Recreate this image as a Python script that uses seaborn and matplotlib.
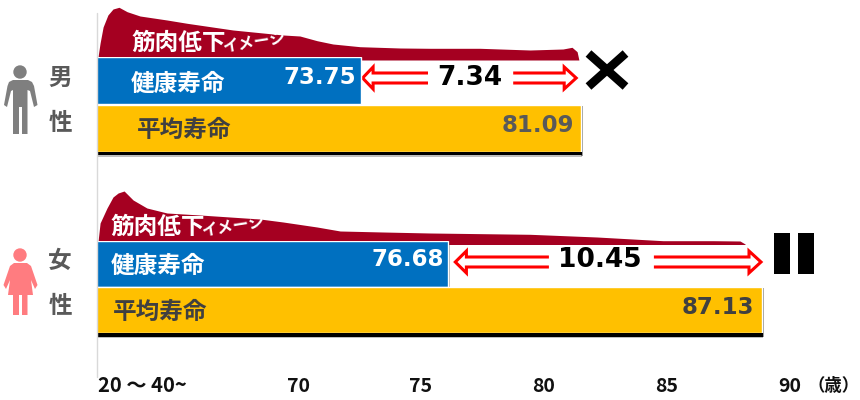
#!/usr/bin/env python3

import matplotlib
matplotlib.use("Agg")
import matplotlib.pyplot as plt
from matplotlib.patches import Circle, Polygon
import seaborn as sns

sns.set_theme(style="white")
JP_FONT = ["Noto Sans CJK JP", "DejaVu Sans"]
plt.rcParams["font.family"] = JP_FONT

# values
bar_names = ["健康寿命", "平均寿命"]
male_years = [73.75, 81.09]
female_years = [76.68, 87.13]
male_gap = "7.34"
female_gap = "10.45"

# muscle decline curves: age and top edge
male_curve_age = [65.0, 65.07, 65.17, 65.33, 65.5, 65.7, 65.97, 66.4, 67.3, 67.97, 69.5, 71.17,
                  71.73, 72.3, 72.83, 73.73, 75.07, 76.07, 77.73, 79.4, 80.5, 80.8, 80.97, 81.03]
male_curve_top = [57, 43, 27, 15, 9, 7.3, 11.7, 16, 20, 23.3, 30, 35,
                  36, 40.7, 44, 46.7, 48, 48.3, 48.3, 50, 49, 47.3, 51.7, 60]
female_curve_age = [65.0, 65.07, 65.3, 65.5, 65.67, 65.87, 66.17, 66.63, 67.3, 68.4, 70.4, 71.17,
                    72.3, 73.07, 74.5, 76.07, 79.4, 81.63, 83.83, 85.5, 86.4, 86.57]
female_curve_top = [241.7, 223, 208, 197, 193, 191, 200, 208, 213, 215, 219, 222,
                    227, 231, 232, 233, 234.3, 237, 240.7, 240.7, 241, 244]

tick_labels = ["70", "75", "80", "85", "90"]
tick_pixels = [298, 421, 544, 667, 790]

BLUE = "#0070C0"
GOLD = "#FFC000"
MAROON = "#A50021"
W, H = 860, 400
LEFT_PX = 98
PX_PER_YEAR = 30


def add_bars(fig, top, bottom, years):
    ax = fig.add_axes([LEFT_PX / W, 1 - bottom / H, (W - LEFT_PX) / W, (bottom - top) / H], zorder=2)
    sns.barplot(x=years, y=bar_names, hue=bar_names, palette=[BLUE, GOLD], width=1,
                saturation=1, legend=False, ax=ax)
    ax.set_xlim(65, 65 + (W - LEFT_PX) / PX_PER_YEAR)
    ax.axis("off")
    return ax


def add_shadow(ax, years, blue_top, gold_top, gold_bottom):
    ax.fill_between([65, years[1] + 0.05], gold_bottom + 1, gold_bottom + 5, color="#000000", alpha=0.25, lw=0)
    ax.fill_between([65, years[1] + 0.05], gold_bottom, gold_bottom + 3.2, color="#000000", lw=0)
    ax.fill_between([years[1], years[1] + 0.08], gold_top + 1, gold_bottom + 4, color="#000000", alpha=0.4, lw=0)
    ax.fill_between([years[0], years[0] + 0.05], blue_top + 1, gold_top, color="#000000", alpha=0.3, lw=0)


def add_arrow(ax, tip, base, end, y, half_shaft=5, half_head=11):
    # open outline: the shaft end stays without a cap
    points = [(end, y - half_shaft), (base, y - half_shaft), (base, y - half_head), (tip, y),
              (base, y + half_head), (base, y + half_shaft), (end, y + half_shaft)]
    ax.add_patch(Polygon(points, closed=False, facecolor="white", edgecolor="#FF0000", lw=2.2, joinstyle="miter"))


fig = plt.figure(figsize=(W / 100, H / 100), dpi=100, facecolor="white")

# back layer: x in years, y in pixels
age_ax = fig.add_axes([0, 0, 1, 1], zorder=1)
age_ax.set_xlim(65 - LEFT_PX / PX_PER_YEAR, 65 + (W - LEFT_PX) / PX_PER_YEAR)
age_ax.set_ylim(H, 0)
age_ax.axis("off")

age_ax.fill_between(male_curve_age, male_curve_top, 60, color=MAROON, lw=0)
age_ax.fill_between(female_curve_age, female_curve_top, 244.5, color=MAROON, lw=0)
add_shadow(age_ax, male_years, 57.3, 104.5, 151.7)
add_shadow(age_ax, female_years, 241.3, 287, 333.3)

add_arrow(age_ax, male_years[0] + 0.07, male_years[0] + 0.42, male_years[0] + 2.25, 78)
add_arrow(age_ax, male_years[1] - 0.15, male_years[1] - 0.55, male_years[1] - 2.25, 78)
add_arrow(age_ax, female_years[0] + 0.23, female_years[0] + 0.6, female_years[0] + 3.35, 262)
add_arrow(age_ax, female_years[1] - 0.03, female_years[1] - 0.43, female_years[1] - 3.6, 262)

add_bars(fig, 57.3, 151.7, male_years)
add_bars(fig, 241.3, 333.3, female_years)

# top layer in pixels for labels and pictograms
px = fig.add_axes([0, 0, 1, 1], zorder=3)
px.set_xlim(0, W)
px.set_ylim(H, 0)
px.axis("off")
px.patch.set_alpha(0)


def jp(x, y, s, size=17, color="#404040", ha="center", **kw):
    px.text(x, y, s, fontsize=size, color=color, ha=ha, va="center", fontweight="bold", **kw)


def num(x, y, s, size=16.5, color="white", ha="center"):
    px.text(x, y, s, fontsize=size, color=color, ha=ha, va="center", fontweight="bold", family="DejaVu Sans")


px.plot([97.3, 97.3], [13, 377], color="#D9D9D9", lw=1)

# male block
jp(179, 43, "筋肉低下", color="white")
jp(255, 41, "イメージ", size=11.5, color="white", rotation=9)
jp(178, 84, bar_names[0], color="white")
jp(184, 130, bar_names[1])
num(320, 77, f"{male_years[0]:.2f}")
num(574, 126, f"{male_years[1]:.2f}", color="#595959", ha="right")
num(470, 78, male_gap, size=19, color="black")

# female block
jp(158, 227, "筋肉低下", color="white")
jp(234, 225, "イメージ", size=11.5, color="white", rotation=9)
jp(158, 266, bar_names[0], color="white")
jp(160, 312, bar_names[1])
num(408, 260, f"{female_years[0]:.2f}")
num(754, 308, f"{female_years[1]:.2f}", color="#404040", ha="right")
num(600, 260, female_gap, size=19, color="black")

# side labels
for x, y, s in [(60, 78, "男"), (60, 123, "性"), (60, 261, "女"), (60, 306, "性")]:
    jp(x, y, s, size=17, color="#595959")

# pictograms
grey = "#7F7F7F"
pink = "#FF7C80"
px.add_patch(Circle((20, 72), 6.7, color=grey, lw=0))
px.add_patch(Polygon([(13, 80), (28, 80), (32, 82), (34, 86), (37.5, 105), (34, 107), (30, 91), (27.5, 90),
                      (27.5, 134), (22, 134), (22, 107), (19, 107), (19, 134), (13, 134), (13, 90),
                      (11, 91), (7, 107), (4, 105), (7.5, 86), (9, 82)], color=grey, lw=0))
px.add_patch(Circle((20, 255), 6.7, color=pink, lw=0))
px.add_patch(Polygon([(14, 263), (27, 263), (31, 266), (37.5, 285), (35, 289), (31, 280), (33, 295),
                      (27.5, 295), (27.5, 315), (22, 315), (22, 295), (19, 295), (19, 315), (13, 315),
                      (13, 295), (8, 295), (10, 280), (6, 289), (3.5, 285), (10, 266)], color=pink, lw=0))

# verdict marks
px.plot([588.5, 625.5], [53.5, 86.5], color="black", lw=6.2, solid_capstyle="butt")
px.plot([625.5, 588.5], [53.5, 86.5], color="black", lw=6.2, solid_capstyle="butt")
px.fill_between([774, 790], 233, 274, color="black", lw=0)
px.fill_between([798, 814], 233, 274, color="black", lw=0)

# axis labels sit off the bar scale in the original
px.text(98, 386, "20 ～ 40~", fontsize=14.5, fontweight="bold", color="#111111", ha="left", va="center")
for x, label in zip(tick_pixels, tick_labels):
    px.text(x, 386, label, fontsize=14, fontweight="bold", color="#111111", ha="center", va="center")
px.text(834, 386, "（歳）", fontsize=12.5, fontweight="bold", color="#111111", ha="center", va="center")

fig.savefig("out.png", dpi=100)
